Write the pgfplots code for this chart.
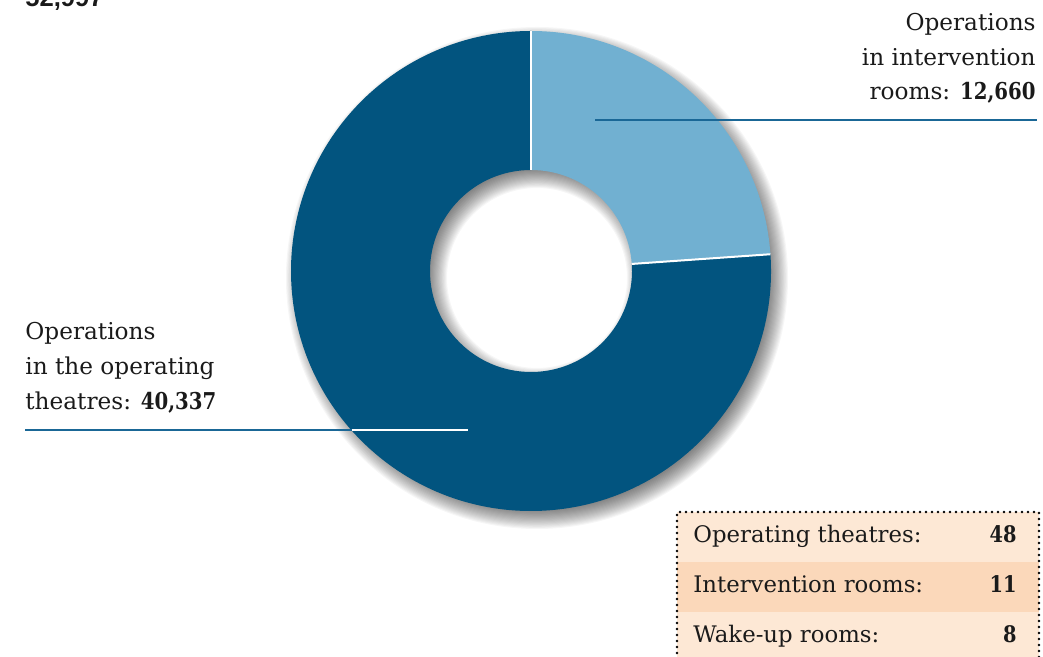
\documentclass[border=0pt]{standalone}
\usepackage{fontspec}
\setmainfont{DejaVu Serif}
\newfontfamily\sansbold[BoldFont={Liberation Sans Bold}]{Liberation Sans}
\newfontfamily\numbold[FakeStretch=0.85]{DejaVu Serif}
\newcommand\nb[1]{{\numbold\bfseries #1}}
\usepackage{pgfplots}
\usepackage{pgfplotstable}
\pgfplotsset{compat=1.18}
\definecolor{darkblue}{HTML}{02547F}
\definecolor{lightblue}{HTML}{71B0D1}
\definecolor{peachA}{HTML}{FDE8D5}
\definecolor{peachB}{HTML}{FBD8BA}
\definecolor{linecol}{HTML}{1A6796}
\definecolor{txt}{HTML}{1A1A1A}

\pgfplotstableread{
label value
theatres 40337
intervention 12660
}\ops

\begin{document}
\begin{tikzpicture}
\pgfplotstablegetelem{0}{value}\of\ops \let\vA\pgfplotsretval
\pgfplotstablegetelem{1}{value}\of\ops \let\vB\pgfplotsretval
\pgfkeys{/pgf/fpu=true,/pgf/fpu/output format=fixed}
\pgfmathsetmacro\angB{90-360*\vB/(\vA+\vB)}
\pgfkeys{/pgf/fpu=false}
\def\R{120pt}
\def\r{50.5pt}
\begin{axis}[hide axis, scale only axis, width=521.5pt, height=328.5pt,
  xmin=0, xmax=1043, ymin=0, ymax=657, clip=false]
% shadow
\pgfplotsinvokeforeach{0,...,17}{
  \fill[black, opacity=0.035, even odd rule]
    (axis cs:537,379) circle[radius=\R+(#1-7)*0.55pt]
    (axis cs:537,379) circle[radius=\r-(#1-7)*0.55pt];
}
% slices
\fill[lightblue] ([shift={(90:\R)}]axis cs:531,386) arc[start angle=90,end angle=\angB,radius=\R]
  -- ([shift={(\angB:\r)}]axis cs:531,386) arc[start angle=\angB,end angle=90,radius=\r] -- cycle;
\fill[darkblue] ([shift={(\angB:\R)}]axis cs:531,386) arc[start angle=\angB,end angle=-270,radius=\R]
  -- ([shift={(-270:\r)}]axis cs:531,386) arc[start angle=-270,end angle=\angB,radius=\r] -- cycle;
\draw[white, line width=1pt] ([shift={(90:\r)}]axis cs:531,386) -- ([shift={(90:\R)}]axis cs:531,386);
\draw[white, line width=1pt] ([shift={(\angB:\r)}]axis cs:531,386) -- ([shift={(\angB:\R)}]axis cs:531,386);
% total (cut off at top)
\node[anchor=base west, inner sep=0, font=\sansbold\bfseries\fontsize{12.8}{14}\selectfont, text=txt] at (axis cs:25,650) {52,997};
% right label
\begin{scope}[every node/.style={anchor=base east, inner sep=0, font=\fontsize{11.6}{14}\selectfont, text=txt}]
\node at (axis cs:1036,626) {Operations};
\node at (axis cs:1036,591) {in intervention};
\node at (axis cs:1036,557) {rooms: \nb{12,660}};
\end{scope}
\draw[linecol, line width=0.7pt] (axis cs:595,537) -- (axis cs:1037,537);
% left label
\begin{scope}[every node/.style={anchor=base west, inner sep=0, font=\fontsize{11.6}{14}\selectfont, text=txt}]
\node at (axis cs:25,317) {Operations};
\node at (axis cs:25,282) {in the operating};
\node at (axis cs:25,247) {theatres: \nb{40,337}};
\end{scope}
\draw[linecol, line width=0.7pt] (axis cs:25,227) -- (axis cs:352,227);
\draw[white, line width=0.7pt] (axis cs:352,227) -- (axis cs:468,227);
% table
\fill[peachA] (axis cs:677,0) rectangle (axis cs:1039,145);
\fill[peachB] (axis cs:677,45) rectangle (axis cs:1039,95);
\draw[black, line width=1.3pt, line cap=round, dash pattern=on 0pt off 3pt]
  (axis cs:677,-2) -- (axis cs:677,145) -- (axis cs:1039,145) -- (axis cs:1039,-2);
\begin{scope}[every node/.style={inner sep=0, font=\fontsize{11.4}{14}\selectfont, text=txt}]
\node[anchor=base west] at (axis cs:693,114) {Operating theatres:};
\node[anchor=base east] at (axis cs:1017,114) {\nb{48}};
\node[anchor=base west] at (axis cs:693,64) {Intervention rooms:};
\node[anchor=base east] at (axis cs:1017,64) {\nb{11}};
\node[anchor=base west] at (axis cs:693,14) {Wake-up rooms:};
\node[anchor=base east] at (axis cs:1017,14) {\nb{8}};
\end{scope}
\end{axis}
\pgfresetboundingbox
\path[use as bounding box] (0,0) rectangle (521.5pt,328.5pt);
\end{tikzpicture}
\end{document}
